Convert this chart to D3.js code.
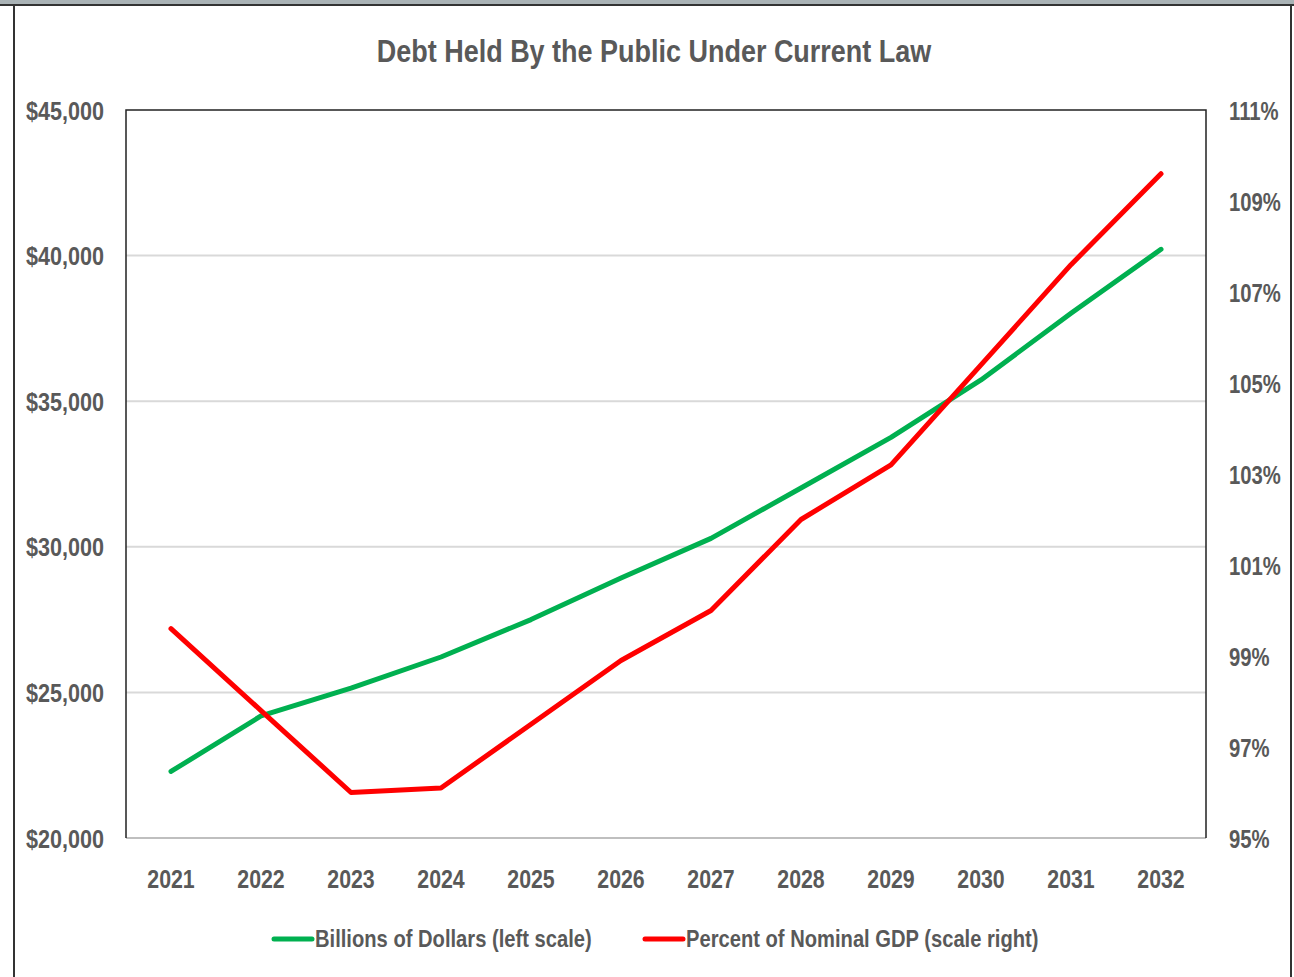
<!DOCTYPE html>
<html>
<head>
<meta charset="utf-8">
<script src="https://cdn.jsdelivr.net/npm/d3@7"></script>
<style>
  html, body { margin: 0; padding: 0; background: #fff; }
  svg { display: block; }
  text { font-family: "Liberation Sans", Arial, sans-serif; font-weight: bold; fill: #595959; }
</style>
</head>
<body>
<svg id="chart" width="1294" height="977"></svg>
<script>
// Debt held by the public, CBO baseline under current law
const years = ["2021", "2022", "2023", "2024", "2025", "2026", "2027", "2028", "2029", "2030", "2031", "2032"];
const debtBillions = [22284, 24190, 25150, 26216, 27500, 28930, 30290, 32020, 33760, 35730, 38020, 40216];
const debtPctGDP = [99.6, 97.8, 96.0, 96.1, 97.5, 98.9, 100.0, 102.0, 103.2, 105.4, 107.6, 109.6];
const leftTicks = [20000, 25000, 30000, 35000, 40000, 45000];
const rightTicks = [95, 97, 99, 101, 103, 105, 107, 109, 111];
const chartTitle = "Debt Held By the Public Under Current Law";
const seriesNames = ["Billions of Dollars (left scale)", "Percent of Nominal GDP (scale right)"];
const seriesColors = ["#00B050", "#FF0000"];

const svg = d3.select("#chart");
const W = 1294, H = 977;
const plot = { left: 126, right: 1206, top: 110, bottom: 838 };

// squeeze text horizontally to get a condensed look
function condense(sel, k) {
  sel.each(function () {
    const len = this.getComputedTextLength();
    d3.select(this).attr("textLength", len * k).attr("lengthAdjust", "spacingAndGlyphs");
  });
}

// outer frame
svg.append("rect").attr("x", 0).attr("y", 0).attr("width", W).attr("height", 4).attr("fill", "#aab3b6");
svg.append("line").attr("x1", 0).attr("x2", W).attr("y1", 5).attr("y2", 5).attr("stroke", "#333").attr("stroke-width", 2);
svg.append("line").attr("x1", 14).attr("x2", 14).attr("y1", 5).attr("y2", H).attr("stroke", "#333").attr("stroke-width", 2);
svg.append("line").attr("x1", 1291).attr("x2", 1291).attr("y1", 5).attr("y2", H).attr("stroke", "#333").attr("stroke-width", 2);

const x = d3.scaleBand().domain(years).range([plot.left, plot.right]);
const yL = d3.scaleLinear().domain([20000, 45000]).range([plot.bottom, plot.top]);
const yR = d3.scaleLinear().domain([95, 111]).range([plot.bottom, plot.top]);

// title
svg.append("text")
  .attr("x", 654).attr("y", 62)
  .attr("text-anchor", "middle")
  .style("font-size", "31px")
  .text(chartTitle)
  .call(condense, 0.87);

// gridlines from the left scale
svg.append("g")
  .selectAll("line")
  .data(leftTicks.filter(v => v > 20000 && v < 45000))
  .join("line")
  .attr("x1", plot.left).attr("x2", plot.right)
  .attr("y1", d => yL(d)).attr("y2", d => yL(d))
  .attr("stroke", "#d9d9d9").attr("stroke-width", 2);

// bottom axis line (light) and black frame on the other sides
svg.append("line").attr("x1", plot.left).attr("x2", plot.right)
  .attr("y1", plot.bottom).attr("y2", plot.bottom)
  .attr("stroke", "#bfbfbf").attr("stroke-width", 2);
svg.append("path")
  .attr("d", `M${plot.left},${plot.bottom}V${plot.top}H${plot.right}V${plot.bottom}`)
  .attr("fill", "none").attr("stroke", "#222").attr("stroke-width", 1.5);

// axes
const fmtDollar = d => "$" + d3.format(",")(d);
const leftAxis = svg.append("g")
  .attr("transform", `translate(${plot.left - 22},0)`)
  .call(d3.axisLeft(yL).tickValues(leftTicks).tickFormat(fmtDollar).tickSize(0).tickPadding(0));
const rightAxis = svg.append("g")
  .attr("transform", `translate(${plot.right + 23},0)`)
  .call(d3.axisRight(yR).tickValues(rightTicks).tickFormat(d => d + "%").tickSize(0).tickPadding(0));
const bottomAxis = svg.append("g")
  .attr("transform", `translate(0,${plot.bottom + 41})`)
  .call(d3.axisBottom(x).tickSize(0).tickPadding(0));
[leftAxis, rightAxis, bottomAxis].forEach(g => {
  g.select(".domain").remove();
  g.attr("font-family", null).attr("font-size", null);
  g.selectAll("text").attr("fill", "#595959").style("font-size", "26px").attr("dy", "0.35em");
});
bottomAxis.selectAll("text").attr("y", 0);
leftAxis.selectAll("text").call(condense, 0.83);
rightAxis.selectAll("text").call(condense, 0.78);
bottomAxis.selectAll("text").call(condense, 0.82);

// series lines
const cx = d => x(d) + x.bandwidth() / 2;
const lineL = d3.line().x((d, i) => cx(years[i])).y(d => yL(d));
const lineR = d3.line().x((d, i) => cx(years[i])).y(d => yR(d));
svg.append("path").datum(debtBillions).attr("d", lineL)
  .attr("fill", "none").attr("stroke", seriesColors[0]).attr("stroke-width", 5)
  .attr("stroke-linecap", "round").attr("stroke-linejoin", "round");
svg.append("path").datum(debtPctGDP).attr("d", lineR)
  .attr("fill", "none").attr("stroke", seriesColors[1]).attr("stroke-width", 5)
  .attr("stroke-linecap", "round").attr("stroke-linejoin", "round");

// legend
const legendItems = [{ x: 274, name: seriesNames[0], color: seriesColors[0] },
                     { x: 645, name: seriesNames[1], color: seriesColors[1] }];
const lg = svg.append("g").selectAll("g").data(legendItems).join("g")
  .attr("transform", d => `translate(${d.x},939)`);
lg.append("line").attr("x1", 0).attr("x2", 38).attr("y1", 0).attr("y2", 0)
  .attr("stroke", d => d.color).attr("stroke-width", 5).attr("stroke-linecap", "round");
lg.append("text").attr("x", 41).attr("dy", "0.35em").style("font-size", "24px").text(d => d.name)
  .call(condense, 0.84);
</script>
</body>
</html>
